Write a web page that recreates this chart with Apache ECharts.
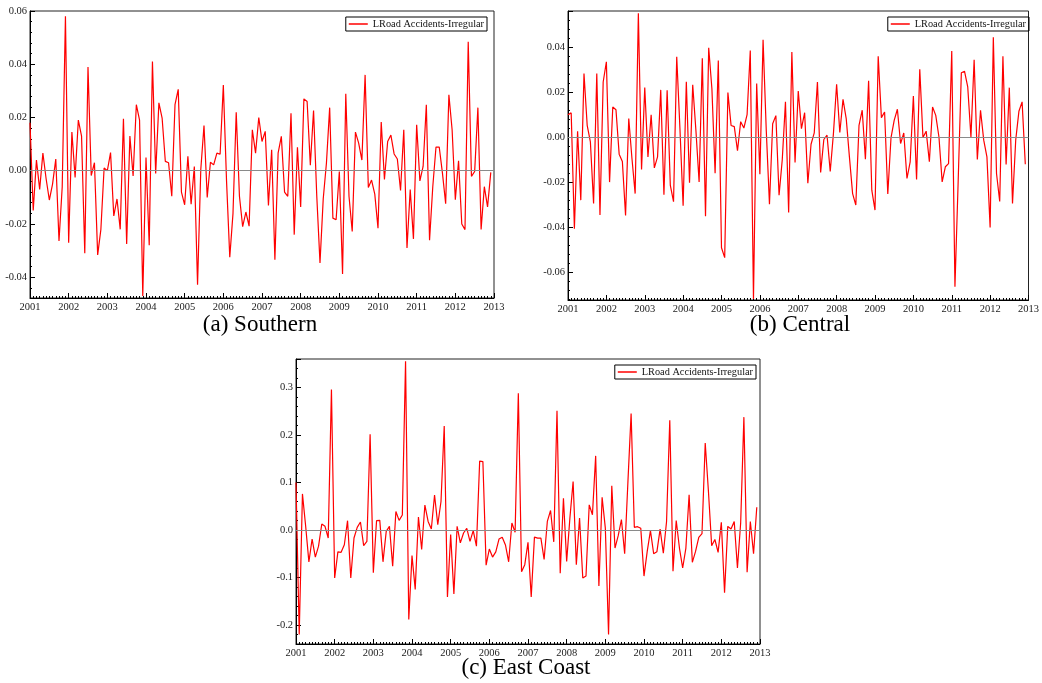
<!DOCTYPE html>
<html>
<head>
<meta charset="utf-8">
<script src="https://cdn.jsdelivr.net/npm/echarts@6/dist/echarts.min.js"></script>
<style>
  html, body { margin: 0; padding: 0; background: #fff; }
  #chart { width: 1042px; height: 683px; }
</style>
</head>
<body>
<div id="chart"></div>
<script>
// monthly irregular component, Jan 2001 .. Dec 2012
const startYear = 2001
const years = [2001, 2002, 2003, 2004, 2005, 2006, 2007, 2008, 2009, 2010, 2011, 2012, 2013]
const seriesName = 'LRoad Accidents-Irregular'
const captions = ['(a) Southern', '(b) Central', '(c) East Coast']

const southern = [
  0.018, -0.0149, 0.004, -0.007, 0.0066, -0.003, -0.011, -0.005, 0.0044, -0.0264, -0.006, 0.058,
  -0.027, 0.0145, -0.0025, 0.019, 0.013, -0.031, 0.039, -0.0018, 0.003, -0.0316, -0.022, 0.001,
  0.000, 0.0068, -0.017, -0.0106, -0.022, 0.0195, -0.0275, 0.013, -0.002, 0.0248, 0.019, -0.047,
  0.005, -0.028, 0.041, -0.001, 0.0255, 0.0198, 0.0035, 0.003, -0.0096, 0.0248, 0.0306, -0.008,
  -0.0128, 0.0054, -0.0126, 0.0016, -0.0428, 0.0004, 0.017, -0.01, 0.0032, 0.0022, 0.0066, 0.0062,
  0.0322, -0.004, -0.0325, -0.016, 0.022, -0.0096, -0.021, -0.0155, -0.0208, 0.0154, 0.0066, 0.02,
  0.011, 0.0148, -0.013, 0.0079, -0.0334, 0.0066, 0.0129, -0.008, -0.0096, 0.0216, -0.024, 0.0088,
  -0.0136, 0.027, 0.026, 0.0021, 0.0226, -0.0096, -0.0346, -0.0106, 0.0029, 0.0237, -0.0178, -0.0184,
  -0.0003, -0.0388, 0.0289, -0.0096, -0.0228, 0.0145, 0.0104, 0.004, 0.036, -0.0063, -0.0035, -0.0088,
  -0.0216, 0.0183, -0.0033, 0.011, 0.0134, 0.0063, 0.0044, -0.0074, 0.0154, -0.029, -0.0071, -0.0256,
  0.0173, -0.0038, 0.0016, 0.0248, -0.0261, -0.006, 0.0089, 0.0089, -0.0009, -0.0124, 0.0285, 0.0154,
  -0.0109, 0.0037, -0.02, -0.0221, 0.0484, -0.0021, -0.0003, 0.0237, -0.0221, -0.006, -0.0136, -0.0006,
]

const central = [
  0.010, 0.0108, -0.0406, 0.0027, -0.0279, 0.0283, 0.0053, -0.0021, -0.0294, 0.0283, -0.0345, 0.0245,
  0.0335, -0.0199, 0.0134, 0.0122, -0.0075, -0.0108, -0.0347, 0.0083, -0.0094, -0.025, 0.055, -0.0143,
  0.022, -0.0087, 0.010, -0.0136, -0.0087, 0.021, -0.0255, 0.0208, -0.0214, -0.0286, 0.0357, 0.004,
  -0.0304, 0.0246, -0.0202, 0.0233, 0.003, -0.0198, 0.035, -0.035, 0.0397, 0.0215, -0.016, 0.034,
  -0.049, -0.0534, 0.0198, 0.0052, 0.0047, -0.006, 0.0069, 0.0041, 0.010, 0.0385, -0.0717, 0.0238,
  -0.0164, 0.0432, 0.003, -0.0297, 0.006, 0.0096, -0.0257, -0.01, 0.0157, -0.0334, 0.0378, -0.0112,
  0.0205, 0.0038, 0.0109, -0.0204, -0.0031, 0.0019, 0.0245, -0.0156, -0.001, 0.0009, -0.0152, 0.0016,
  0.0235, 0.0021, 0.0168, 0.0083, -0.0087, -0.025, -0.0301, 0.0053, 0.012, -0.0097, 0.025, -0.0235,
  -0.0323, 0.0359, 0.0087, 0.0112, -0.0252, -0.0003, 0.0075, 0.0124, -0.0028, 0.0019, -0.0183, -0.0109,
  0.0183, -0.0187, 0.0301, -0.0001, 0.0027, -0.0109, 0.0134, 0.0097, 0.0001, -0.0198, -0.0131, -0.0117,
  0.0382, -0.0663, -0.02, 0.0286, 0.0292, 0.0223, 0.0001, 0.0344, -0.0099, 0.012, -0.0013, -0.0087,
  -0.04, 0.0444, -0.0161, -0.0285, 0.0359, -0.0121, 0.022, -0.0294, -0.0013, 0.0115, 0.0157, -0.012,
]

const eastCoast = [
  0.10, -0.22, 0.076, 0.008, -0.067, -0.019, -0.057, -0.034, 0.0126, 0.0077, -0.0168, 0.296,
  -0.101, -0.046, -0.047, -0.031, 0.0196, -0.101, -0.0168, 0.0056, 0.0168, -0.033, -0.024, 0.2018,
  -0.09, 0.0196, 0.0203, -0.067, -0.003, 0.0077, -0.076, 0.039, 0.0203, 0.0315, 0.355, -0.1885,
  -0.054, -0.125, 0.0273, -0.041, 0.0526, 0.018, 0.002, 0.0736, 0.011, 0.06, 0.219, -0.141,
  -0.0098, -0.1345, 0.0077, -0.027, -0.0063, 0.0035, -0.024, -0.0014, -0.034, 0.145, 0.144, -0.074,
  -0.04, -0.057, -0.046, -0.019, -0.0154, -0.0315, -0.067, 0.0147, -0.0049, 0.288, -0.088, -0.073,
  -0.026, -0.141, -0.015, -0.017, -0.017, -0.062, 0.018, 0.041, -0.025, 0.251, -0.091, 0.067,
  -0.066, 0.025, 0.102, -0.073, 0.025, -0.101, -0.097, 0.053, 0.032, 0.156, -0.118, 0.069,
  0.004, -0.22, 0.093, -0.038, -0.012, 0.022, -0.05, 0.1, 0.245, 0.0056, 0.007, 0.0035,
  -0.097, -0.045, -0.0014, -0.05, -0.046, 0.002, -0.049, 0.018, 0.231, -0.087, 0.02, -0.038,
  -0.08, -0.038, 0.074, -0.068, -0.045, -0.0154, -0.0077, 0.183, 0.081, -0.033, -0.02, -0.047,
  0.016, -0.132, 0.0077, 0.002, 0.018, -0.08, 0.0147, 0.2376, -0.089, 0.018, -0.05, 0.048,
]

// y ranges
const yMin = [-0.0478, -0.0722, -0.24]
const yMax = [0.06, 0.056, 0.36]

const serif = '"Liberation Serif", "DejaVu Serif", serif'

const grids = [
  { left: 30, top: 11, width: 464, height: 287 },
  { left: 568, top: 11, width: 463, height: 289 },
  { left: 296, top: 359, width: 464, height: 285 },
]

const legendPos = [
  { right: 555, top: 17 },
  { right: 13, top: 17 },
  { right: 286, top: 365 },
]

const captionPos = [
  { left: 260, top: 313 },
  { left: 800, top: 313 },
  { left: 526, top: 656 },
]

function toPoints(values) {
  return values.map((v, i) => [startYear + i / 12, v])
}

function initChart() {
  const chart = echarts.init(document.getElementById('chart'))
  const allData = [southern, central, eastCoast]

  const xAxis = grids.map((g, i) => ({
    type: 'value',
    gridIndex: i,
    min: years[0],
    max: years[years.length - 1],
    interval: 1,
    axisLine: { show: true, onZero: false, lineStyle: { color: '#000', width: 1 } },
    axisTick: { show: true, inside: true, length: 5, lineStyle: { color: '#000' } },
    minorTick: { show: true, splitNumber: 12, length: 2, lineStyle: { color: '#000' } },
    splitLine: { show: false },
    axisLabel: {
      color: '#222',
      fontFamily: serif,
      fontSize: 10.5,
      margin: 4,
      formatter: v => String(v),
    },
  }))

  const yAxis = grids.map((g, i) => ({
    type: 'value',
    gridIndex: i,
    min: yMin[i],
    max: yMax[i],
    splitNumber: i === 1 ? 6 : 5,
    axisLine: { show: true, onZero: false, lineStyle: { color: '#000', width: 1 } },
    axisTick: { show: true, inside: true, length: 5, lineStyle: { color: '#000' } },
    minorTick: { show: true, splitNumber: 5, length: 2, lineStyle: { color: '#000' } },
    splitLine: { show: false },
    axisLabel: {
      color: '#222',
      fontFamily: serif,
      fontSize: 10.5,
      margin: 3,
      showMinLabel: false,
      showMaxLabel: i === 0,
      formatter: v => v.toFixed(i === 2 ? 1 : 2),
    },
  }))

  const series = allData.map((d, i) => ({
    type: 'line',
    name: seriesName,
    xAxisIndex: i,
    yAxisIndex: i,
    data: toPoints(d),
    symbol: 'none',
    lineStyle: { color: '#ff0000', width: 1.2 },
    itemStyle: { color: '#ff0000' },
    markLine: {
      silent: true,
      symbol: 'none',
      label: { show: false },
      lineStyle: { color: '#8a8a8a', type: 'solid', width: 1 },
      data: [{ yAxis: 0 }],
    },
    z: 3,
  }))

  chart.setOption({
    animation: false,
    backgroundColor: '#fff',
    grid: grids.map(g => ({
      ...g,
      show: true,
      borderColor: '#222',
      borderWidth: 1,
      backgroundColor: 'transparent',
    })),
    xAxis,
    yAxis,
    legend: legendPos.map(p => ({
      ...p,
      data: [seriesName],
      selectedMode: false,
      icon: 'rect',
      itemWidth: 19,
      itemHeight: 1.5,
      itemGap: 4,
      padding: [2, 3],
      borderColor: '#000',
      borderWidth: 1,
      borderRadius: 0,
      textStyle: { fontFamily: serif, fontSize: 10.3, color: '#111' },
    })),
    title: captions.map((c, i) => ({
      text: c,
      ...captionPos[i],
      textAlign: 'center',
      padding: 0,
      textStyle: { fontFamily: serif, fontSize: 23, fontWeight: 'normal', color: '#000' },
    })),
    series,
  })
}

initChart()
</script>
</body>
</html>
